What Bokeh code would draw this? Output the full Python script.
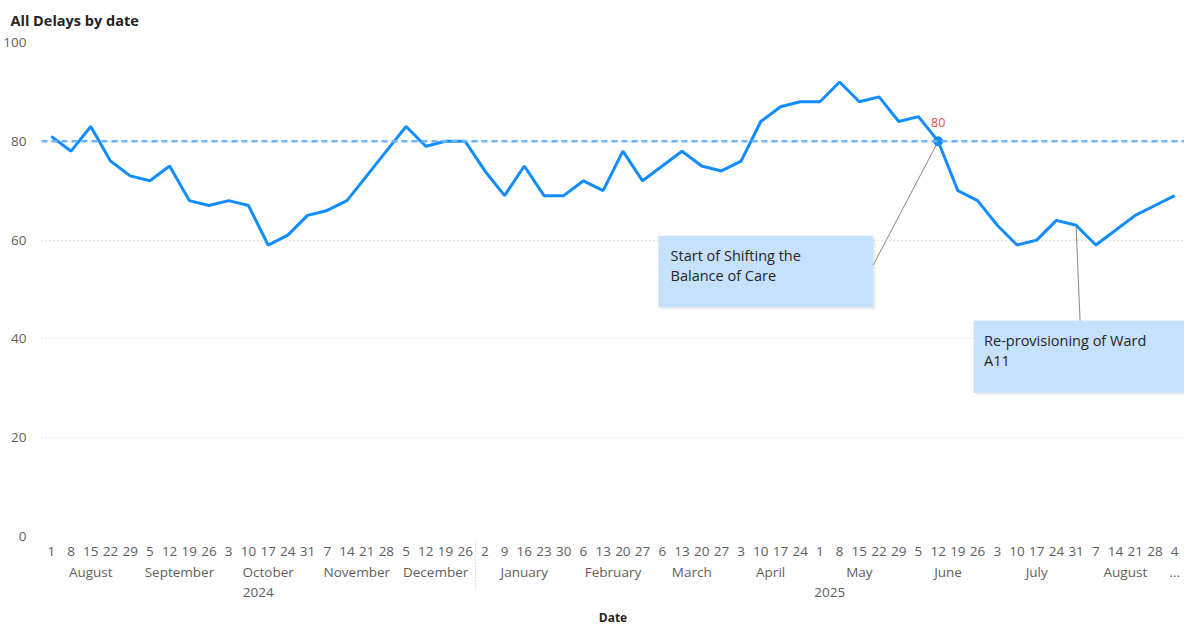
from bokeh.plotting import figure
from bokeh.models import FactorRange, Range1d, Span, Label, BoxAnnotation, FixedTicker, Title
from bokeh.embed import file_html
from bokeh.resources import INLINE

# ---------------- data ----------------
years = ["2024", "2024", "2024", "2024", "2024",
         "2025", "2025", "2025", "2025", "2025", "2025", "2025", "2025", "2025"]
months = ["August", "September", "October", "November", "December",
          "January", "February", "March", "April", "May", "June", "July", "August", "..."]
days = [
    [1, 8, 15, 22, 29],
    [5, 12, 19, 26],
    [3, 10, 17, 24, 31],
    [7, 14, 21, 28],
    [5, 12, 19, 26],
    [2, 9, 16, 23, 30],
    [6, 13, 20, 27],
    [6, 13, 20, 27],
    [3, 10, 17, 24],
    [1, 8, 15, 22, 29],
    [5, 12, 19, 26],
    [3, 10, 17, 24, 31],
    [7, 14, 21, 28],
    [4],
]
delays = [81, 78, 83, 76, 73, 72, 75, 68, 67, 68, 67, 59, 61, 65, 66, 68, 73, 78, 83, 79, 80, 80,
          74, 69, 75, 69, 69, 72, 70, 78, 72, 75, 78, 75, 74, 76, 84, 87, 88,
          88, 92, 88, 89, 84, 85, 80, 70, 68, 63, 59, 60, 64, 63, 59, 62, 65, 67, 69]
target = 80
highlight = ("2025", "June", "12")
notes = ["Start of Shifting the\nBalance of Care", "Re-provisioning of Ward\nA11"]
note_points = [("2025", "June", "12"), ("2025", "July", "31")]

factors = [(y, m, str(d)) for y, m, ds in zip(years, months, days) for d in ds]
value_of = dict(zip(factors, delays))

# ---------------- styling ----------------
FONT = "Open Sans"
GREY = "#605E5C"
DARK = "#252423"
BLUE = "#118DFF"
TICK = "13.5px"

p = figure(
    width=1184, height=628, title=None,
    x_range=FactorRange(*factors, group_padding=0, subgroup_padding=0,
                        factor_padding=0, range_padding=0),
    y_range=Range1d(0, 100),
    output_backend="svg", toolbar_location=None,
    min_border_left=35, min_border_right=0, min_border_top=42, min_border_bottom=92,
)
p.outline_line_color = None
p.background_fill_color = "white"
p.border_fill_color = "white"

# small spacer next to the frame, then the chart title above it
p.add_layout(Title(text=" ", text_font_size="3px", standoff=0), "above")
p.add_layout(Title(text="All Delays by date", text_font=FONT, text_font_size="14.5px",
                   text_font_style="bold", text_color=DARK, align="left",
                   offset=-31, standoff=16), "above")

# grid
p.xgrid.grid_line_color = None
p.ygrid.grid_line_color = "#C8C6C4"
p.ygrid.grid_line_dash = "1 3"
p.ygrid.grid_line_width = 1

# y axis
ya = p.yaxis[0]
ya.ticker = FixedTicker(ticks=[0, 20, 40, 60, 80, 100])
ya.axis_line_color = None
ya.major_tick_line_color = None
ya.minor_tick_line_color = None
ya.major_label_text_font = FONT
ya.major_label_text_font_size = TICK
ya.major_label_text_color = GREY
ya.major_label_standoff = 9

# x axis
xa = p.xaxis[0]
xa.axis_line_color = None
xa.major_tick_line_color = None
xa.major_label_text_font = FONT
xa.major_label_text_font_size = TICK
xa.major_label_text_color = GREY
xa.major_label_standoff = 4
xa.group_text_font = FONT
xa.group_text_font_size = TICK
xa.group_text_font_style = "normal"
xa.group_text_color = GREY
xa.subgroup_text_font = FONT
xa.subgroup_text_font_size = TICK
xa.subgroup_text_font_style = "normal"
xa.subgroup_text_color = GREY
xa.separator_line_color = "#C8C6C4"
xa.separator_line_dash = "1 2"
xa.separator_line_width = 1
xa.axis_label = "Date"
xa.axis_label_text_font = FONT
xa.axis_label_text_font_size = "12px"
xa.axis_label_text_font_style = "bold"
xa.axis_label_text_color = DARK
xa.axis_label_standoff = 9

# target line
p.add_layout(Span(location=target, dimension="width", line_color="#6FB3F2",
                  line_dash="6 4", line_width=2.5))

# annotation boxes (behind the series)
boxes = [(31.3, 42.2, 60.9, 46.4), (47.3, 58.0, 43.7, 29.1)]
for l, r, t, b in boxes:
    p.add_layout(BoxAnnotation(left=l + 0.12, right=r + 0.12, top=t - 0.4, bottom=b - 0.4,
                               fill_color="#9AA0A6", fill_alpha=0.18, line_color=None,
                               level="underlay"))
    p.add_layout(BoxAnnotation(left=l, right=r, top=t, bottom=b,
                               fill_color="#C5E1FB", fill_alpha=1.0, line_color=None,
                               level="underlay"))

# connectors
p.segment(x0=note_points, y0=[value_of[f] for f in note_points],
          x1=[42.2, 52.7], y1=[54.9, 43.7], line_color="#8A8886", line_width=1)

# main series
p.line(x=factors, y=delays, line_color=BLUE, line_width=3)

# highlighted point
hx = factors.index(highlight) + 0.5
p.scatter(x=[highlight], y=[value_of[highlight]], size=9, fill_color=BLUE, line_color=BLUE)
p.add_layout(Label(x=hx, y=value_of[highlight], text=str(value_of[highlight]),
                   y_offset=14, text_align="center", text_baseline="bottom",
                   text_font=FONT, text_font_size="12.5px", text_color="#E0524A",
                   background_fill_color="white", background_fill_alpha=0.55))

# note texts
for txt, (x, y) in zip(notes, [(31.92, 58.8), (47.83, 41.6)]):
    p.add_layout(Label(x=x, y=y, text=txt, text_align="left", text_baseline="top",
                       text_font=FONT, text_font_size="14.5px", text_color=DARK,
                       text_line_height=1.05))

open("out.html", "w").write(file_html(p, INLINE))
